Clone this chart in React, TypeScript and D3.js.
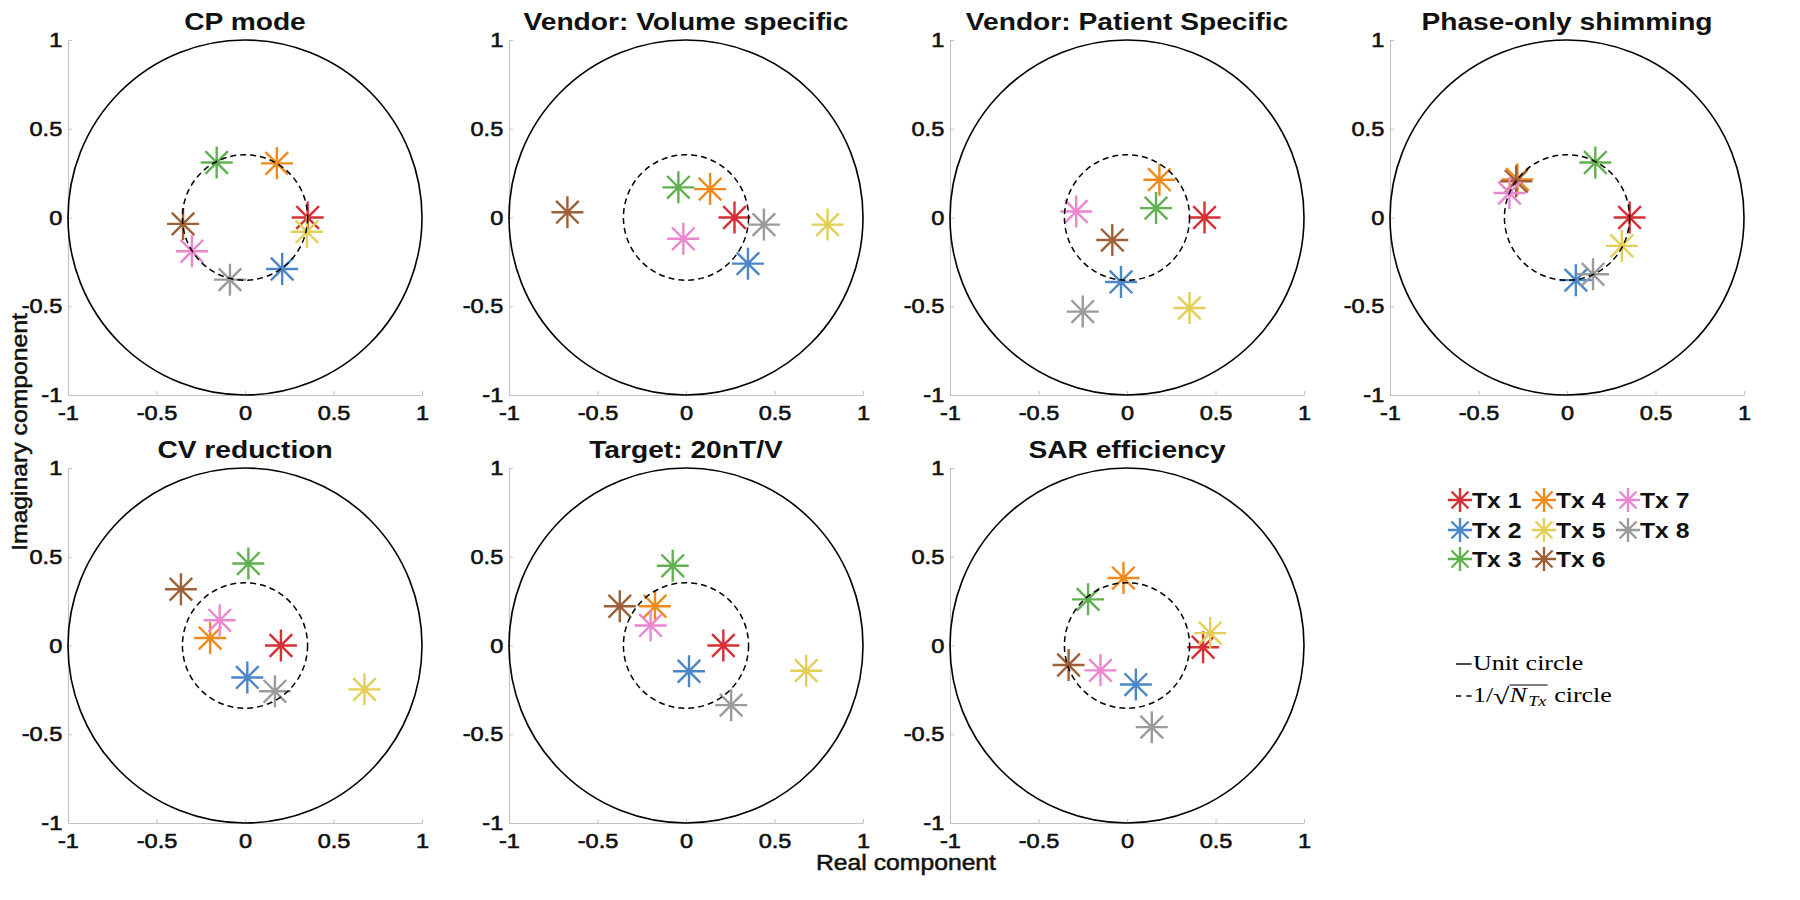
import { useRef, useEffect } from 'react';
import * as d3 from 'd3';

const txLabels = ['Tx 1', 'Tx 2', 'Tx 3', 'Tx 4', 'Tx 5', 'Tx 6', 'Tx 7', 'Tx 8'];
const txColors = ['#d62f36', '#4a86c8', '#62b150', '#f08a1c', '#e3cf55', '#9e6137', '#eb87cf', '#9b9b9b'];

const panelTitles = [
  'CP mode',
  'Vendor: Volume specific',
  'Vendor: Patient Specific',
  'Phase-only shimming',
  'CV reduction',
  'Target: 20nT/V',
  'SAR efficiency',
];

// weights per transmit channel (Tx1..Tx8), real / imaginary parts
const cpReal = [0.354, 0.21, -0.16, 0.18, 0.35, -0.35, -0.3, -0.085];
const cpImag = [0, -0.29, 0.31, 0.305, -0.08, -0.036, -0.19, -0.35];

const volumeReal = [0.274, 0.35, -0.043, 0.136, 0.8, -0.67, -0.015, 0.44];
const volumeImag = [0, -0.26, 0.17, 0.16, -0.04, 0.03, -0.12, -0.04];

const patientReal = [0.438, -0.034, 0.164, 0.183, 0.353, -0.083, -0.287, -0.25];
const patientImag = [0, -0.363, 0.053, 0.213, -0.51, -0.127, 0.034, -0.53];

const phaseReal = [0.354, 0.05, 0.16, -0.28, 0.31, -0.287, -0.325, 0.147];
const phaseImag = [0, -0.353, 0.31, 0.215, -0.16, 0.204, 0.138, -0.32];

const cvReal = [0.203, 0.013, 0.019, -0.197, 0.675, -0.362, -0.143, 0.169];
const cvImag = [0, -0.18, 0.462, 0.042, -0.247, 0.317, 0.142, -0.258];

const targetReal = [0.211, 0.017, -0.075, -0.175, 0.679, -0.374, -0.2, 0.255];
const targetImag = [0, -0.145, 0.449, 0.221, -0.142, 0.221, 0.113, -0.336];

const sarReal = [0.43, 0.05, -0.22, -0.02, 0.47, -0.33, -0.15, 0.14];
const sarImag = [-0.01, -0.22, 0.26, 0.38, 0.07, -0.11, -0.14, -0.46];

const panelReal = [cpReal, volumeReal, patientReal, phaseReal, cvReal, targetReal, sarReal];
const panelImag = [cpImag, volumeImag, patientImag, phaseImag, cvImag, targetImag, sarImag];

const tickValues = [-1, -0.5, 0, 0.5, 1];
const tickLabels = ['-1', '-0.5', '0', '0.5', '1'];
const nTx = 8;

const WIDTH = 1800;
const HEIGHT = 900;
const SANS = 'Helvetica, Arial, "Liberation Sans", sans-serif';
const SERIF = '"Liberation Serif", "DejaVu Serif", serif';
const SX = 1.15; // the figure's lettering is a bit wider than Arial

const starPath = (r: number) => {
  const d = r * Math.SQRT1_2;
  return `M${-r},0L${r},0M0,${-r}L0,${r}M${-d},${-d}L${d},${d}M${-d},${d}L${d},${-d}`;
};

export default function App() {
  const svgRef = useRef<SVGSVGElement | null>(null);

  useEffect(() => {
    if (!svgRef.current) return;
    const svg = d3.select(svgRef.current);
    svg.selectAll('*').remove();

    const colLefts = [68, 509, 950, 1390];
    const rowTops = [40, 468];
    const w = 354;
    const h = 355;

    panelTitles.forEach((title, p) => {
      const left = colLefts[p % 4];
      const top = rowTops[Math.floor(p / 4)];
      const x = d3.scaleLinear().domain([-1, 1]).range([left, left + w]);
      const y = d3.scaleLinear().domain([-1, 1]).range([top + h, top]);

      const g = svg.append('g');

      // axes (light grey, ticks inward)
      const yAxis = g
        .append('g')
        .attr('transform', `translate(${left},0)`)
        .call(
          d3
            .axisLeft(y)
            .tickValues(tickValues)
            .tickFormat((_, i) => tickLabels[i])
            .tickSizeInner(-4)
            .tickSizeOuter(0)
            .tickPadding(5)
        );
      const xAxis = g
        .append('g')
        .attr('transform', `translate(0,${top + h})`)
        .call(
          d3
            .axisBottom(x)
            .tickValues(tickValues)
            .tickFormat((_, i) => tickLabels[i])
            .tickSizeInner(-4)
            .tickSizeOuter(0)
            .tickPadding(10)
        );
      [yAxis, xAxis].forEach((ax) => {
        ax.select('.domain').attr('stroke', '#c4c4c4').attr('stroke-width', 1.2);
        ax.selectAll('.tick line').attr('stroke', '#c4c4c4');
        ax.selectAll('.tick text')
          .attr('fill', '#111')
          .attr('font-size', 20.5)
          .attr('font-family', SANS)
          .attr('stroke', '#111')
          .attr('stroke-width', 0.6)
          .attr('transform', `scale(${SX},1)`);
      });

      g.append('text')
        .attr('transform', `translate(${left + w / 2},${top - 10}) scale(${SX},1)`)
        .attr('text-anchor', 'middle')
        .attr('font-family', SANS)
        .attr('font-weight', 'bold')
        .attr('font-size', 24.5)
        .attr('fill', '#111')
        .text(title);

      const re = panelReal[p];
      const im = panelImag[p];
      re.forEach((v, i) => {
        g.append('path')
          .attr('d', starPath(16))
          .attr('transform', `translate(${x(v)},${y(im[i])})`)
          .attr('fill', 'none')
          .attr('stroke', txColors[i])
          .attr('stroke-width', 2.4);
      });

      const rx = x(1) - x(0);
      const ry = y(0) - y(1);
      g.append('ellipse')
        .attr('cx', x(0))
        .attr('cy', y(0))
        .attr('rx', rx)
        .attr('ry', ry)
        .attr('fill', 'none')
        .attr('stroke', '#000')
        .attr('stroke-width', 1.6);
      g.append('ellipse')
        .attr('cx', x(0))
        .attr('cy', y(0))
        .attr('rx', rx / Math.sqrt(nTx))
        .attr('ry', ry / Math.sqrt(nTx))
        .attr('fill', 'none')
        .attr('stroke', '#000')
        .attr('stroke-width', 1.5)
        .attr('stroke-dasharray', '6,4');
    });

    // axis labels
    svg
      .append('text')
      .attr('transform', `translate(27,432) rotate(-90) scale(${SX},1)`)
      .attr('text-anchor', 'middle')
      .attr('font-family', SANS)
      .attr('font-size', 21.5)
      .attr('fill', '#111')
      .attr('stroke', '#111')
      .attr('stroke-width', 0.5)
      .text('Imaginary component');
    svg
      .append('text')
      .attr('transform', `translate(906,870) scale(${SX},1)`)
      .attr('text-anchor', 'middle')
      .attr('font-family', SANS)
      .attr('font-size', 21.5)
      .attr('fill', '#111')
      .attr('stroke', '#111')
      .attr('stroke-width', 0.5)
      .text('Real component');

    // Tx legend, 3 columns filled column-wise
    const legend = svg.append('g');
    const legendCols = [1460, 1544, 1628];
    const legendRows = [500, 530, 559];
    txLabels.forEach((label, i) => {
      const cx = legendCols[Math.floor(i / 3)];
      const cy = legendRows[i % 3];
      legend
        .append('path')
        .attr('d', starPath(12))
        .attr('transform', `translate(${cx},${cy})`)
        .attr('fill', 'none')
        .attr('stroke', txColors[i])
        .attr('stroke-width', 2.4);
      legend
        .append('text')
        .attr('transform', `translate(${cx + 12},${cy + 7.5}) scale(${SX},1)`)
        .attr('font-family', SANS)
        .attr('font-weight', 'bold')
        .attr('font-size', 21.5)
        .attr('fill', '#111')
        .text(label);
    });

    // circle legend (drawn in a horizontally stretched group)
    const cl = svg.append('g').attr('transform', `translate(1456,0) scale(1.3,1)`);
    const ly1 = 670;
    const ly2 = 702;
    const fs = 20;
    cl.append('line')
      .attr('x1', 0)
      .attr('x2', 12)
      .attr('y1', ly1 - 6)
      .attr('y2', ly1 - 6)
      .attr('stroke', '#000')
      .attr('stroke-width', 1.4);
    cl.append('text')
      .attr('x', 13)
      .attr('y', ly1)
      .attr('font-family', SERIF)
      .attr('font-size', fs)
      .text('Unit circle');

    cl.append('line')
      .attr('x1', 0)
      .attr('x2', 12)
      .attr('y1', ly2 - 6)
      .attr('y2', ly2 - 6)
      .attr('stroke', '#000')
      .attr('stroke-width', 1.4)
      .attr('stroke-dasharray', '4,4');
    let cx = 13;
    const addText = (t: string, opts: { italic?: boolean; size?: number; dy?: number } = {}) => {
      const el = cl
        .append('text')
        .attr('x', cx)
        .attr('y', ly2 + (opts.dy ?? 0))
        .attr('font-family', SERIF)
        .attr('font-size', opts.size ?? fs)
        .attr('font-style', opts.italic ? 'italic' : 'normal')
        .text(t);
      const len = (el.node() as SVGTextElement).getComputedTextLength();
      cx += len;
      return len;
    };
    addText('1/');
    addText('\u221A', { size: fs + 3, dy: 2 });
    const barStart = cx;
    addText('N', { italic: true });
    cx += 1;
    addText('Tx', { italic: true, size: 14, dy: 4 });
    cl.append('line')
      .attr('x1', barStart)
      .attr('x2', cx + 1)
      .attr('y1', ly2 - 17)
      .attr('y2', ly2 - 17)
      .attr('stroke', '#000')
      .attr('stroke-width', 1);
    cx += 6;
    addText('circle');
  }, []);

  return (
    <svg
      ref={svgRef}
      width={WIDTH}
      height={HEIGHT}
      style={{ position: 'absolute', left: 0, top: 0, background: '#fff' }}
    />
  );
}
